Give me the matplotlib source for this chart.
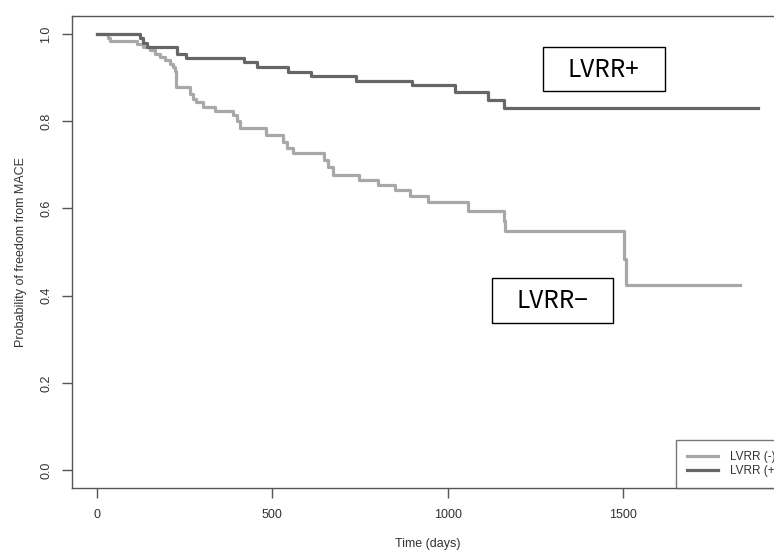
import matplotlib
matplotlib.use("Agg")
import matplotlib.pyplot as plt
from matplotlib.patches import Rectangle

# Kaplan-Meier steps (days, survival)
neg_days = [0, 31, 38, 114, 131, 151, 165, 179, 194, 208, 217, 222, 224, 226,
            265, 274, 282, 301, 336, 388, 399, 407, 483, 530, 541, 559, 647,
            658, 673, 746, 801, 849, 892, 943, 1057, 1161, 1163, 1502, 1509, 1832]
neg_surv = [1.0, 0.991, 0.983, 0.977, 0.970, 0.962, 0.954, 0.946, 0.939, 0.931,
            0.923, 0.914, 0.897, 0.879, 0.862, 0.850, 0.844, 0.833, 0.823, 0.814,
            0.800, 0.785, 0.768, 0.753, 0.738, 0.726, 0.710, 0.695, 0.676, 0.665,
            0.653, 0.642, 0.628, 0.615, 0.594, 0.570, 0.548, 0.485, 0.425, 0.425]

pos_days = [0, 124, 131, 142, 157, 228, 254, 419, 456, 545, 610, 738, 897,
            1020, 1114, 1160, 1883]
pos_surv = [1.0, 0.990, 0.980, 0.969, 0.969, 0.955, 0.944, 0.935, 0.923, 0.913,
            0.904, 0.893, 0.883, 0.866, 0.848, 0.831, 0.831]

x_ticks = [0, 500, 1000, 1500]
y_ticks = [0.0, 0.2, 0.4, 0.6, 0.8, 1.0]

light = "#a8a8a8"
dark = "#666666"
frame = "#555555"

plt.rcParams['font.family'] = ['Liberation Sans', 'DejaVu Sans']

fig = plt.figure(figsize=(7.74, 5.5), dpi=100)
ax = fig.add_axes([72/774, 62/550, 711/774, 472/550])

ax.step(neg_days, neg_surv, where='post', color=light, lw=2.3, label="LVRR (-)")
ax.step(pos_days, pos_surv, where='post', color=dark, lw=2.3, label="LVRR (+)")

ax.set_xlim(-71, 1955)
ax.set_ylim(-0.041, 1.041)
ax.set_xticks(x_ticks)
ax.set_yticks(y_ticks)
ax.set_yticklabels([f"{v:.1f}" for v in y_ticks], rotation=90, va='center')
ax.tick_params(length=7, width=1, color=frame, labelsize=9, labelcolor="#333333")
ax.tick_params(axis='x', pad=8)
ax.tick_params(axis='y', pad=7)
for s in ax.spines.values():
    s.set_color(frame)
    s.set_linewidth(1)

ax.set_xlabel("Time (days)", fontsize=9, color="#333333", labelpad=12)
ax.set_ylabel("Probability of freedom from MACE", fontsize=9, color="#333333", labelpad=10)

# annotation boxes
ax.add_patch(Rectangle((1271, 0.868), 347, 0.103, facecolor='white',
                       edgecolor='black', lw=1, zorder=4))
ax.text(1444, 0.918, "LVRR+", fontsize=17.5, family=['Noto Sans CJK JP', 'DejaVu Sans'],
        ha='center', va='center', zorder=5)
ax.add_patch(Rectangle((1125, 0.338), 345, 0.103, facecolor='white',
                       edgecolor='black', lw=1, zorder=4))
ax.text(1297, 0.388, "LVRR\u2212", fontsize=17.5, family=['Noto Sans CJK JP', 'DejaVu Sans'],
        ha='center', va='center', zorder=5)

leg = ax.legend(loc='lower left', bbox_to_anchor=(676/774, 62/550),
                bbox_transform=fig.transFigure, fontsize=8.5, frameon=True,
                fancybox=False, handlelength=2.6, handletextpad=1.0,
                borderpad=0.95, labelspacing=0.15, borderaxespad=0)
leg.get_frame().set_edgecolor(frame)
leg.get_frame().set_linewidth(1)
for t in leg.get_texts():
    t.set_color("#333333")

fig.savefig("out.png", dpi=100)
